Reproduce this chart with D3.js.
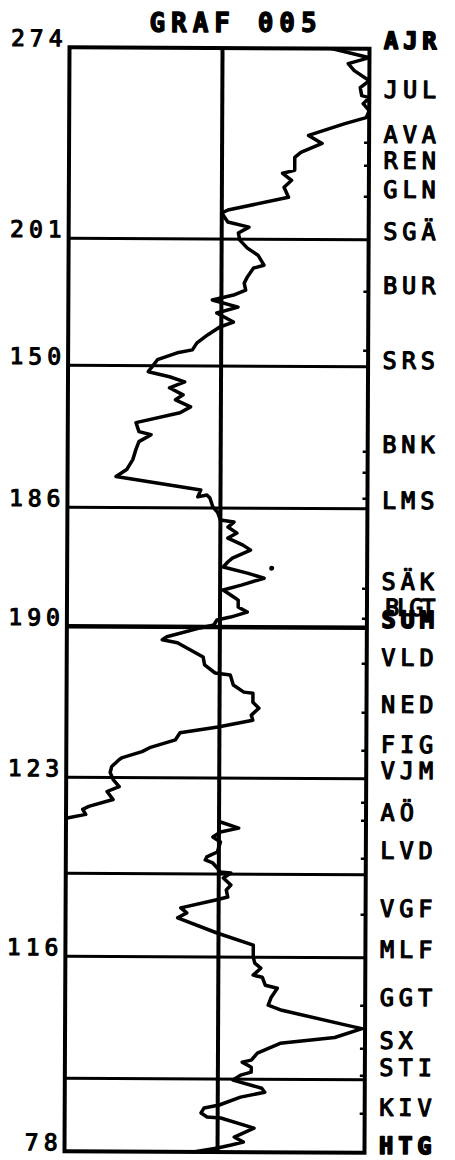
<!DOCTYPE html>
<html>
<head>
<meta charset="utf-8">
<script src="https://cdn.jsdelivr.net/npm/d3@7"></script>
<style>
  html, body { margin: 0; padding: 0; background: #fff; }
  svg { display: block; }
</style>
</head>
<body>
<script>
// ---------- DATA ----------
const title = "GRAF 005";

// left-side numbers at the horizontal divisions (depth along route)
const leftLabels = ["274", "201", "150", "186", "190", "123", "116", "78"];
const leftLabelDepth = [0, 19.1, 31.8, 46, 57.9, 73, 90.9, 110.4];

// horizontal division lines (depth)
const gridDepth = [19.1, 31.8, 46, 57.9, 73, 82.6, 90.9, 103.1];

// station names on the right and their depth
const stations = ["AJR","JUL","AVA","REN","GLN","SGÄ","BUR","SRS","BNK","LMS","SÄK","BLGT","SUM","VLD","NED","FIG","VJM","AÖ","LVD","VGF","MLF","GGT","SX","STI","KIV","HTG"];
const stationDepth = [0, 4.9, 9.4, 12, 14.9, 19.1, 24.5, 32, 40.4, 46, 54.1, 56.7, 57.9, 61.7, 66.4, 70.4, 73, 77.2, 81, 86.8, 90.9, 95.7, 100, 102.7, 106.7, 110.5];

// small tick marks on the right border (depth)
const tickDepth = [9.4, 11.7, 14.8, 24.3, 30.2, 40.3, 42.4, 45, 54, 57, 61.5, 66.4, 70.2, 75.4, 77.2, 81, 86.6, 95.7, 100, 102.7, 106.5];

// curve, upper part: depth and deviation
const upperDepth = [0,0.9,1.5,2.2,3.2,3.9,4.7,4.9,5.5,6.2,6.9,7.5,8.7,9.5,10.4,10.9,12.2,12.5,13.2,13.9,14.9,16.2,16.5,17.4,17.9,18.5,19.2,20,20.7,21.7,22,22.9,23.5,24.2,24.7,25.2,25.9,26.5,27.4,27.9,28.7,29.5,30.2,30.5,31.2,32.4,32.9,33.4,34,34.7,35.2,35.9,36.5,37.5,38.4,38.7,39.4,40.2,41.2,42.2,42.9,44.2,44.9,44.7,45,45.9,46.4,47.2,47.4,47.9,48.5,49,49.7,50.2,51,51.4,51.9,52.5,53,53.7,54.2,54.9,55.2,55.9,56.4,56.9,57.2,57.7,58,58.9,59.2,59.5,60.9,61.7,62.5,62.7,63.7,64.4,64.5,65.4,66,66.7,67.2,67.9,68.5,69.2,70,70.4,71,71.2,71.9,72.5,73.2,73.9,74.4,75.2,75.9,76.2,76.7,77.1];
const upperValue = [72,97,83,87,97,91,92,97,93,97,95,81,57,66,52,48,48,40,46,41,44,4,0,4,18,11,12,17,24,28,21,17,15,16,8,-6,11,-3,8,-1,-9,-16,-19,-29,-42,-48,-34,-24,-34,-25,-30,-20,-27,-56,-54,-46,-54,-56,-58,-62,-69,-13,-15,-9,-7,-5,-2,0,9,5,11,5,15,20,8,5,2,18,29,14,2,9,12,12,18,7,-2,-4,-13,-35,-38,-28,-11,-10,-3,7,9,16,22,22,26,21,22,-1,-26,-29,-46,-51,-64,-66,-71,-72,-70,-66,-74,-70,-86,-90,-88,-101];

// curve, lower part
const lowerDepth = [77.4,78,78.4,78.9,79.4,80.4,80.9,81.2,81.5,82,82.4,82.5,83,83.7,84.2,84.9,85.2,86,86.5,87,88.5,89.7,90.9,91.5,92,92.7,92.9,93.7,94,94.9,95.7,96.2,97.7,98,98.9,99.5,100.5,101.2,101.4,101.9,102.4,102.7,103.2,104,104.4,104.9,105.7,106,106.5,106.9,107,108,108.9,109.4,109.7,110,110.4];
const lowerValue = [1,13,1,-4,1,-1,-8,-9,-4,-1,1,8,3,8,5,6,-2,-25,-21,-27,-1,23,23,24,28,23,29,31,39,35,33,42,86,95,77,41,26,22,16,22,22,15,10,29,31,15,1,-9,-11,-7,2,24,11,17,9,0,-16];

// isolated dot near SÄK
const strayDepth = [52];
const strayValue = [34];

// ---------- DRAW ----------
const W = 455, H = 1160;
const FONT = "'DejaVu Sans Mono', monospace";

const svg = d3.select("body").append("svg")
  .attr("width", W).attr("height", H)
  .attr("viewBox", `0 0 ${W} ${H}`);

const x = d3.scaleLinear().domain([-101, 97]).range([67, 367]);
const y = d3.scaleLinear().domain([0, 110.4]).range([48, 1152]);

svg.append("text")
  .attr("x", 236).attr("y", 32)
  .attr("text-anchor", "middle")
  .attr("font-family", FONT)
  .attr("font-size", 26)
  .attr("font-weight", "bold")
  .attr("letter-spacing", 6)
  .attr("stroke", "#000").attr("stroke-width", 1.3)
  .attr("stroke-linejoin", "round")
  .attr("fill", "#000")
  .text(title);

// slight tilt as in the scanned original
const g = svg.append("g").attr("transform", "rotate(0.26 218 600)");

svg.append("defs").append("clipPath").attr("id", "plotClip")
  .append("rect")
  .attr("x", x(-101)).attr("y", y(0))
  .attr("width", x(97) - x(-101)).attr("height", y(110.4) - y(0));

// horizontal division lines
g.selectAll("line.grid").data(gridDepth).enter().append("line")
  .attr("class", "grid")
  .attr("x1", x(-101)).attr("x2", x(97))
  .attr("y1", d => y(d)).attr("y2", d => y(d))
  .attr("stroke", "#000")
  .attr("stroke-width", (d, i) => i === 3 ? 4.5 : 3);

// centre line
g.append("line")
  .attr("x1", x(0)).attr("x2", x(0))
  .attr("y1", y(0)).attr("y2", y(110.4))
  .attr("stroke", "#000").attr("stroke-width", 4);

// right ticks
g.selectAll("line.tick").data(tickDepth).enter().append("line")
  .attr("class", "tick")
  .attr("x1", x(97) - 5).attr("x2", x(97))
  .attr("y1", d => y(d)).attr("y2", d => y(d))
  .attr("stroke", "#000").attr("stroke-width", 2.5);

// curve
const line = d3.line().x(d => x(d[1])).y(d => y(d[0]));
const upper = d3.zip(upperDepth, upperValue);
const lower = d3.zip(lowerDepth, lowerValue);
const curveG = g.append("g").attr("clip-path", "url(#plotClip)");
[upper, lower].forEach(seg => {
  curveG.append("path")
    .attr("d", line(seg))
    .attr("fill", "none")
    .attr("stroke", "#000")
    .attr("stroke-width", 3.5)
    .attr("stroke-linejoin", "round")
    .attr("stroke-linecap", "round");
});

g.selectAll("circle.stray").data(d3.zip(strayDepth, strayValue)).enter().append("circle")
  .attr("class", "stray")
  .attr("cx", d => x(d[1])).attr("cy", d => y(d[0]))
  .attr("r", 2.5).attr("fill", "#000");

// border box
g.append("rect")
  .attr("x", x(-101)).attr("y", y(0))
  .attr("width", x(97) - x(-101)).attr("height", y(110.4) - y(0))
  .attr("fill", "none").attr("stroke", "#000").attr("stroke-width", 4);

// left labels
g.selectAll("text.left").data(leftLabels).enter().append("text")
  .attr("class", "left")
  .attr("x", 60 + 5)
  .attr("y", (d, i) => y(leftLabelDepth[i]) - 1)
  .attr("text-anchor", "end")
  .attr("font-family", FONT)
  .attr("font-size", 23)
  .attr("letter-spacing", 5)
  .attr("stroke", "#000").attr("stroke-width", 1.1)
  .attr("stroke-linejoin", "round")
  .attr("fill", "#000")
  .text(d => d);

// right station labels
const boldSet = new Set(["AJR", "SUM", "HTG"]);
g.selectAll("text.right").data(stations).enter().append("text")
  .attr("class", "right")
  .attr("x", d => d === "BLGT" ? 385 : 381.5)
  .attr("y", (d, i) => y(stationDepth[i]))
  .attr("font-family", FONT)
  .attr("font-size", 23.5)
  .attr("font-weight", d => boldSet.has(d) ? "bold" : "normal")
  .attr("letter-spacing", d => d === "BLGT" ? -2 : 5)
  .attr("stroke", "#000")
  .attr("stroke-width", d => boldSet.has(d) ? 1.8 : 1.2)
  .attr("stroke-linejoin", "round")
  .attr("fill", "#000")
  .text(d => d);
</script>
</body>
</html>
